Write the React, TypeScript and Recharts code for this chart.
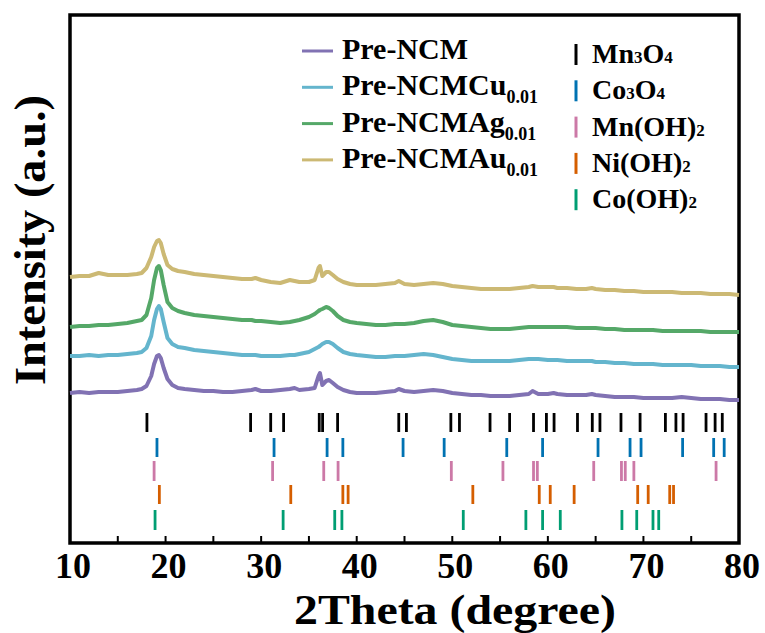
import React from 'react';
import { LineChart, Line, XAxis, YAxis, ReferenceLine, ReferenceArea } from 'recharts';

// 2Theta sample points (degree)
const TWO_THETA = [
  10, 11, 12, 13, 14, 15, 16, 17, 17.5, 18,
  18.5, 18.8, 19.1, 19.3, 19.5, 19.8, 20.2, 20.7, 21.3, 22,
  23, 24, 25, 26, 27, 28, 29, 29.4, 30, 31,
  32, 33, 33.5, 34, 35, 35.6, 36.0, 36.15, 36.4, 36.8,
  37.1, 37.5, 38, 38.6, 39.3, 40, 41, 42, 43, 44,
  44.4, 45, 46, 47, 48, 49, 50, 51, 52, 53,
  54, 55, 56, 57, 58, 58.4, 59, 60, 60.6, 61,
  62, 63, 64, 64.6, 65, 66, 67, 68, 69, 70,
  71, 72, 73, 74, 75, 76, 77, 78, 79, 80,
];

// intensities (a.u., offset stacked)
const PRE_NCM = [
  150, 151, 150, 151, 151, 151, 152, 153, 154, 157,
  167, 179, 187, 188, 185, 175, 164, 158, 155, 154,
  153, 152, 152, 151, 151, 152, 153, 154, 152, 152,
  153, 154, 155, 153, 154, 155, 167, 170, 158, 162,
  163, 160, 156, 153, 151, 150, 150, 150, 151, 152,
  154, 152, 151, 152, 153, 152, 150, 149, 148, 148,
  147, 147, 147, 148, 149, 152, 149, 149, 150, 149,
  148, 148, 148, 149, 148, 147, 146, 146, 146, 145,
  145, 145, 145, 146, 145, 144, 144, 144, 143, 143,
];
const PRE_NCM_CU = [
  187, 187, 188, 187, 188, 188, 189, 190, 191, 195,
  207, 223, 234, 237, 234, 221, 205, 199, 196, 195,
  193, 192, 191, 190, 189, 188, 188, 188, 187, 187,
  187, 188, 188, 189, 191, 194, 196, 197, 199, 201,
  201, 199, 195, 191, 189, 188, 187, 186, 186, 187,
  187, 187, 188, 189, 188, 186, 184, 183, 182, 182,
  182, 182, 182, 183, 184, 184, 184, 183, 183, 183,
  182, 182, 182, 182, 181, 181, 180, 180, 179, 179,
  179, 178, 178, 178, 178, 177, 177, 177, 176, 176,
];
const PRE_NCM_AG = [
  216, 217, 217, 218, 218, 219, 220, 222, 223, 228,
  245, 263, 275, 277, 273, 258, 241, 235, 232, 230,
  228, 227, 226, 225, 224, 223, 223, 222, 222, 221,
  220, 221, 222, 223, 226, 229, 232, 233, 234, 236,
  235, 232, 227, 223, 221, 220, 219, 218, 218, 219,
  219, 219, 220, 222, 223, 221, 218, 217, 216, 215,
  214, 214, 214, 215, 216, 216, 216, 216, 216, 216,
  216, 215, 215, 215, 215, 214, 214, 213, 213, 213,
  213, 212, 212, 212, 212, 212, 211, 211, 211, 211,
];
const PRE_NCM_AU = [
  266, 267, 267, 270, 268, 268, 268, 269, 270, 275,
  286, 296, 302, 303, 300, 289, 278, 274, 272, 271,
  269, 268, 267, 266, 265, 264, 264, 265, 263, 261,
  260, 263, 262, 261, 261, 263, 275, 277, 267, 271,
  271, 268, 264, 261, 259, 258, 258, 258, 259, 260,
  262, 259, 258, 259, 260, 259, 257, 256, 255, 254,
  254, 254, 254, 255, 256, 257, 256, 256, 256, 255,
  255, 254, 254, 255, 254, 253, 253, 252, 252, 251,
  251, 251, 251, 250, 250, 250, 249, 249, 249, 248,
];

// standard reference peaks (2Theta)
const MN3O4 = [18.05, 28.9, 31.0, 32.35, 36.08, 36.43, 38.0, 44.4, 45.2, 49.85, 50.75, 53.95, 56.0, 58.5, 59.85, 60.65, 63.1, 64.65, 65.45, 67.65, 69.65, 72.3, 73.4, 74.15, 76.55, 77.5, 78.25];
const CO3O4 = [19.1, 31.35, 36.9, 38.55, 44.85, 49.15, 55.7, 59.45, 65.25, 68.6, 69.75, 74.1, 77.35, 78.45];
const MN_OH2 = [18.8, 31.2, 36.55, 38.05, 49.9, 55.3, 58.5, 58.9, 64.8, 67.7, 68.1, 69.0, 77.6];
const NI_OH2 = [19.35, 33.1, 38.55, 39.1, 52.15, 59.1, 60.25, 62.75, 69.4, 70.5, 72.75, 73.15];
const CO_OH2 = [18.9, 32.3, 37.7, 38.45, 51.15, 57.7, 59.45, 61.3, 67.75, 69.3, 71.0, 71.6];

const X_TICKS = [10, 15, 20, 25, 30, 35, 40, 45, 50, 55, 60, 65, 70, 75, 80];

const SERIES = [
  { key: 'ncm', name: 'Pre-NCM', sub: '', color: '#8172B3' },
  { key: 'cu', name: 'Pre-NCMCu', sub: '0.01', color: '#64B5CD' },
  { key: 'ag', name: 'Pre-NCMAg', sub: '0.01', color: '#55A868' },
  { key: 'au', name: 'Pre-NCMAu', sub: '0.01', color: '#CCB974' },
];

// label parts ([text, isSmall]), color, peaks, stick range
const PHASES = [
  { parts: [['Mn', 0], ['3', 1], ['O', 0], ['4', 1]], color: '#000000', peaks: MN3O4, lo: 111, hi: 130 },
  { parts: [['Co', 0], ['3', 1], ['O', 0], ['4', 1]], color: '#0072B2', peaks: CO3O4, lo: 86, hi: 105 },
  { parts: [['Mn(OH)', 0], ['2', 1]], color: '#CC79A7', peaks: MN_OH2, lo: 62, hi: 82 },
  { parts: [['Ni(OH)', 0], ['2', 1]], color: '#D55E00', peaks: NI_OH2, lo: 39, hi: 58 },
  { parts: [['Co(OH)', 0], ['2', 1]], color: '#009E73', peaks: CO_OH2, lo: 13, hi: 33 },
];

const FONT = '"Liberation Serif", "Times New Roman", Times, serif';

const data = TWO_THETA.map((t, i) => ({
  t,
  ncm: PRE_NCM[i],
  cu: PRE_NCM_CU[i],
  ag: PRE_NCM_AG[i],
  au: PRE_NCM_AU[i],
}));

const XTick = (props: any) => {
  const { x, y, payload } = props;
  const v = payload.value;
  return (
    <g>
      <line x1={x} x2={x} y1={y - 1} y2={y - 7} stroke="#000" strokeWidth={2} />
      {v % 10 === 0 && (
        <text x={x + 3} y={y + 35} textAnchor="middle" fontFamily={FONT} fontWeight="bold" fontSize={36} fill="#000">
          {v}
        </text>
      )}
    </g>
  );
};

export default function App() {
  return (
    <div style={{ position: 'absolute', left: 0, top: 0, width: 765, height: 633, background: '#fff' }}>
      <LineChart width={765} height={633} data={data} margin={{ top: 15, right: 26, bottom: 60, left: 70 }}>
        <XAxis
          dataKey="t"
          type="number"
          domain={[10, 80]}
          ticks={X_TICKS}
          tickSize={0}
          tickMargin={0}
          tickLine={false}
          axisLine={false}
          height={30}
          tick={<XTick />}
          interval={0}
        />
        <YAxis hide type="number" domain={[0, 528]} />
        {PHASES.map((p) =>
          p.peaks.map((v, i) => (
            <ReferenceLine
              key={p.color + i}
              segment={[{ x: v, y: p.lo }, { x: v, y: p.hi }]}
              stroke={p.color}
              strokeWidth={2.8}
            />
          ))
        )}
        {SERIES.map((s) => (
          <Line
            key={s.key}
            dataKey={s.key}
            type="linear"
            stroke={s.color}
            strokeWidth={4}
            strokeLinejoin="round"
            dot={false}
            isAnimationActive={false}
          />
        ))}
        <ReferenceArea x1={10} x2={80} y1={0} y2={528} fill="none" stroke="#000" strokeWidth={3.5} ifOverflow="visible" />
      </LineChart>
      <svg
        width={765}
        height={633}
        style={{ position: 'absolute', left: 0, top: 0, pointerEvents: 'none' }}
        fontFamily={FONT}
        fontWeight="bold"
      >
        <text x={455} y={624} textAnchor="middle" fontSize={42} fill="#000" textLength={322} lengthAdjust="spacingAndGlyphs">
          2Theta (degree)
        </text>
        <text
          x={45}
          y={240}
          transform="rotate(-90 45 240)"
          textAnchor="middle"
          fontSize={44}
          fill="#000"
          textLength={290}
          lengthAdjust="spacingAndGlyphs"
        >
          Intensity (a.u.)
        </text>
        {SERIES.map((s, i) => {
          const by = 59 + i * 36.3;
          return (
            <g key={s.key}>
              <line x1={302} x2={333} y1={by - 8} y2={by - 8} stroke={s.color} strokeWidth={3} />
              <text x={342} y={by} fontSize={30} fill="#000">
                {s.name}
                {s.sub && (
                  <tspan fontSize={18} dy={8}>
                    {s.sub}
                  </tspan>
                )}
              </text>
            </g>
          );
        })}
        {PHASES.map((p, i) => {
          const by = 63 + i * 36.3;
          return (
            <g key={p.color}>
              <line x1={576} x2={576} y1={by - 19} y2={by + 2} stroke={p.color} strokeWidth={3} />
              <text x={592} y={by} fontSize={28} fill="#000">
                {p.parts.map(([txt, small], j) => (
                  <tspan key={j} fontSize={small ? 17 : 28}>
                    {txt}
                  </tspan>
                ))}
              </text>
            </g>
          );
        })}
      </svg>
    </div>
  );
}
